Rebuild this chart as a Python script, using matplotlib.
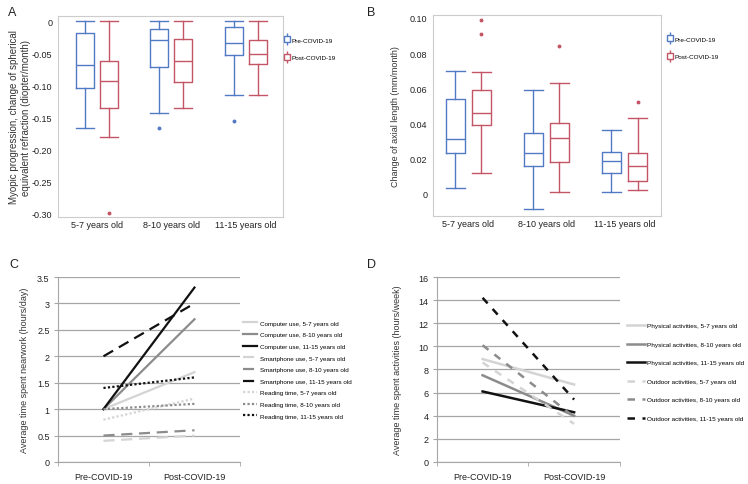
import numpy as np
import matplotlib.pyplot as plt
from matplotlib.lines import Line2D

# panel A / B box statistics: (whislo, q1, med, q3, whishi, outliers)
groups = ["5-7 years old", "8-10 years old", "11-15 years old"]

refr_pre = [(-0.167, -0.105, -0.069, -0.018, 0.0, []),
            (-0.143, -0.071, -0.030, -0.013, 0.0, [-0.167]),
            (-0.115, -0.053, -0.034, -0.009, 0.0, [-0.156])]
refr_post = [(-0.181, -0.135, -0.093, -0.062, 0.0, [-0.30]),
             (-0.135, -0.095, -0.062, -0.028, 0.0, []),
             (-0.115, -0.067, -0.051, -0.030, 0.0, [])]

axl_pre = [(0.0035, 0.023, 0.031, 0.054, 0.070, []),
           (-0.0085, 0.016, 0.023, 0.0345, 0.059, []),
           (0.0008, 0.012, 0.0185, 0.024, 0.036, [])]
axl_post = [(0.012, 0.039, 0.046, 0.059, 0.069, [0.091, 0.099]),
            (0.0008, 0.018, 0.0315, 0.040, 0.063, [0.084]),
            (0.002, 0.0075, 0.016, 0.023, 0.043, [0.052])]

# panel C / D line data (pre, post)
periods = ["Pre-COVID-19", "Post-COVID-19"]
near_labels = ["Computer use, 5-7 years old", "Computer use, 8-10 years old",
               "Computer use, 11-15 years old", "Smartphone use, 5-7 years old",
               "Smartphone use, 8-10 years old", "Smartphone use, 11-15 years old",
               "Reading time, 5-7 years old", "Reading time, 8-10 years old",
               "Reading time, 11-15 years old"]
near_values = [[1.0, 1.7], [1.0, 2.7], [1.0, 3.3],
               [0.4, 0.5], [0.5, 0.6], [2.0, 3.0],
               [0.8, 1.2], [1.0, 1.1], [1.4, 1.6]]

act_labels = ["Physical activities, 5-7 years old", "Physical activities, 8-10 years old",
              "Physical activities, 11-15 years old", "Outdoor activities, 5-7 years old",
              "Outdoor activities, 8-10 years old", "Outdoor activities, 11-15 years old"]
act_values = [[8.9, 6.7], [7.5, 4.0], [6.1, 4.3],
              [8.6, 3.3], [10.1, 3.9], [14.2, 5.4]]

BLUE = "#5279c4"
RED = "#c25566"
GRID = "#a6a6a6"
TXT = "#222222"
shades = ["#d4d4d4", "#8c8c8c", "#111111"]

plt.rcParams["font.family"] = ["Liberation Sans", "DejaVu Sans"]
fig = plt.figure(figsize=(7.48, 4.85), dpi=100)


def to_stats(rows):
    return [dict(whislo=r[0], q1=r[1], med=r[2], q3=r[3], whishi=r[4], fliers=r[5]) for r in rows]


def box_panel(ax, pre, post, ylabel, lpad, yticks, ylabels, ylim, xlim, off, w, legx):
    x = np.arange(len(groups))
    for stats, o, col in [(pre, -off, BLUE), (post, off, RED)]:
        lp = dict(color=col, linewidth=1.0)
        ax.bxp(to_stats(stats), positions=x + o, widths=w, capwidths=w,
               boxprops=lp, whiskerprops=lp, capprops=lp, medianprops=lp,
               flierprops=dict(marker="o", markersize=1.8, markerfacecolor=col,
                               markeredgecolor=col))
    ax.set_xticks(x)
    ax.set_xticklabels(groups, fontsize=6.5, color=TXT)
    ax.set_xlim(*xlim)
    ax.set_ylim(*ylim)
    ax.set_yticks(yticks)
    ax.set_yticklabels(ylabels, fontsize=6.5, color=TXT)
    ax.set_ylabel(ylabel, fontsize=7 if "\n" in ylabel else 6.5, color="#333333",
                  labelpad=lpad)
    ax.tick_params(axis="y", length=0, pad=4)
    ax.tick_params(axis="x", length=0, pad=2.5)
    for s in ax.spines.values():
        s.set_color("#cccccc")
    handles = [(Line2D([], [], color=c, marker="|", markersize=8, linestyle=""),
                Line2D([], [], color=c, marker="s", markersize=4.5, markerfacecolor="white",
                       linestyle="")) for c in (BLUE, RED)]
    ax.legend(handles, ["Pre-COVID-19", "Post-COVID-19"], loc="upper left",
              bbox_to_anchor=(legx, 0.895), frameon=False, fontsize=4.6,
              handlelength=1.0, handletextpad=0.15, labelspacing=1.9,
              borderaxespad=0, borderpad=0)


axA = fig.add_axes([0.0775, 0.5505, 0.301, 0.4144])
box_panel(axA, refr_pre, refr_post,
          "Myopic progression, change of spherical\nequivalent refraction (diopter/month)", 1,
          [0, -0.05, -0.10, -0.15, -0.20, -0.25, -0.30],
          ["0", "-0.05", "-0.10", "-0.15", "-0.20", "-0.25", "-0.30"],
          (-0.306, 0.008), (-0.52, 2.5), 0.163, 0.24, 1.005)

axB = fig.add_axes([0.579, 0.5526, 0.305, 0.4144])
box_panel(axB, axl_pre, axl_post, "Change of axial length (mm/month)", 7,
          [0, 0.02, 0.04, 0.06, 0.08, 0.10],
          ["0", "0.02", "0.04", "0.06", "0.08", "0.10"],
          (-0.0127, 0.1017), (-0.45, 2.47), 0.167, 0.245, 1.025)

styles_c = ["-", (0, (5, 3)), (0, (1, 1))]
styles_d = ["-", (0, (3, 3)), (0, (1, 1))]


def line_panel(ax, labels, values, ylabel, lpad, ymax, ystep, width, styles,
               lx, ly, fs, hl, tp, ls):
    for i, (lab, vals) in enumerate(zip(labels, values)):
        ax.plot([0, 1], vals, color=shades[i % 3], linestyle=styles[i // 3],
                linewidth=width, label=lab)
    ax.set_xlim(-0.5, 1.5)
    ax.set_ylim(0, ymax)
    ticks = np.arange(0, ymax + ystep / 2, ystep)
    ax.set_yticks(ticks)
    ax.set_yticklabels([f"{v:g}" for v in ticks], fontsize=6.5, color=TXT)
    ax.set_xticks([0, 1])
    ax.set_xticklabels(periods, fontsize=6.5, color=TXT)
    ax.set_xticks([-0.5, 0.5, 1.5], minor=True)
    ax.tick_params(axis="x", which="major", length=0, pad=7)
    ax.tick_params(axis="x", which="minor", length=3, color=GRID)
    ax.tick_params(axis="y", length=3, color=GRID, pad=3)
    ax.grid(axis="y", color=GRID, linewidth=0.9)
    ax.set_axisbelow(True)
    for s in ["top", "right"]:
        ax.spines[s].set_visible(False)
    for s in ["left", "bottom"]:
        ax.spines[s].set_color(GRID)
    ax.set_ylabel(ylabel, fontsize=6.5, color="#333333", labelpad=lpad)
    ax.legend(loc="center left", bbox_to_anchor=(lx, ly), frameon=False,
              fontsize=fs, handlelength=hl, handletextpad=tp,
              labelspacing=ls, borderaxespad=0, borderpad=0)


axC = fig.add_axes([0.0775, 0.0454, 0.2433, 0.3814])
line_panel(axC, near_labels, near_values, "Average time spent nearwork (hours/day)", 6,
           3.5, 0.5, 1.6, styles_c, 1.016, 0.50, 4.5, 2.2, 0.6, 1.0)

axD = fig.add_axes([0.584, 0.0454, 0.2447, 0.3814])
line_panel(axD, act_labels, act_values, "Average time spent activities (hours/week)", 12,
           16, 2, 1.8, styles_d, 1.038, 0.487, 4.6, 2.9, 0.2, 2.05)

for lab, x, y in [("A", 0.010, 0.985), ("B", 0.490, 0.985), ("C", 0.012, 0.465), ("D", 0.490, 0.465)]:
    fig.text(x, y, lab, fontsize=9, va="top", color=TXT)

fig.savefig("out.png", dpi=100)
